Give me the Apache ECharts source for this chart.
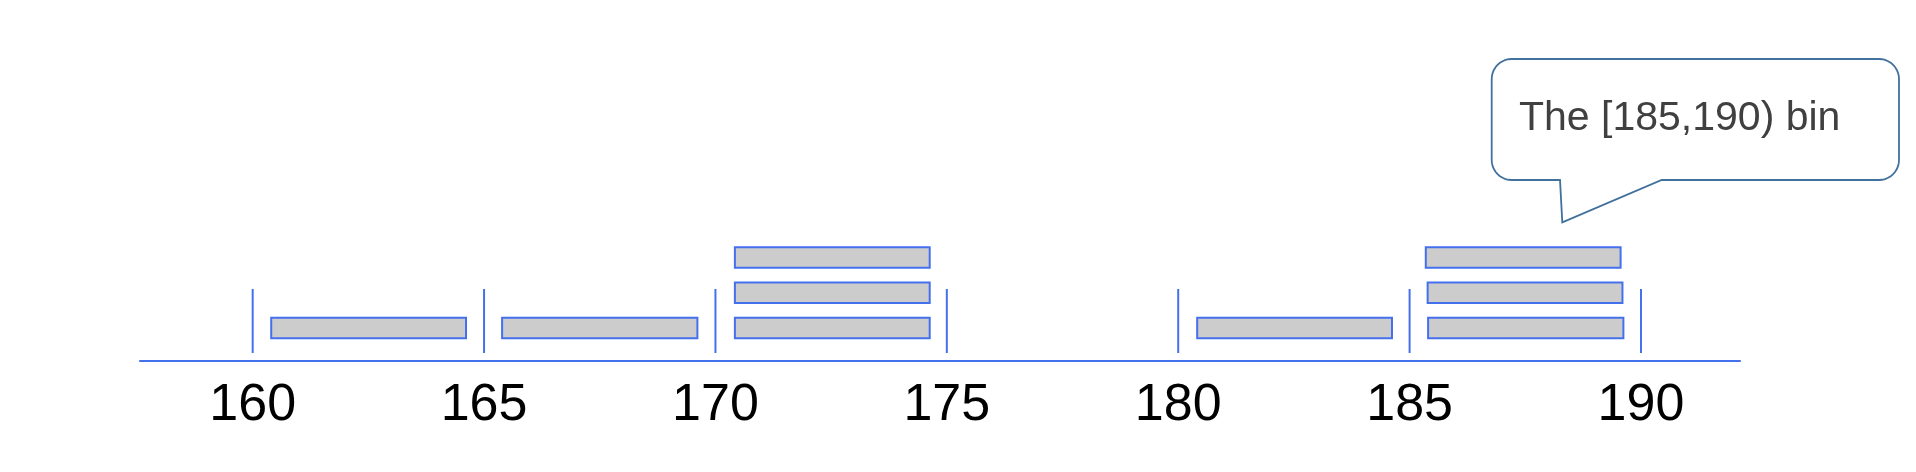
<!DOCTYPE html>
<html>
<head>
<meta charset="utf-8">
<script src="https://cdn.jsdelivr.net/npm/echarts@6/dist/echarts.min.js"></script>
<style>
html,body{margin:0;padding:0;background:#fff;}
#chart{width:1916px;height:472px;}
</style>
</head>
<body>
<div id="chart"></div>
<script>
// Tick labels / bin edges
const binEdges = [160, 165, 170, 175, 180, 185, 190];
// Each box: start value, end value, stack level within its bin
const boxStart = [160.40, 165.39, 170.42, 170.42, 170.42, 180.41, 185.40, 185.39, 185.35];
const boxEnd   = [164.61, 169.61, 174.63, 174.63, 174.63, 184.62, 189.62, 189.60, 189.56];
const boxLevel = [1, 1, 1, 2, 3, 1, 1, 2, 3];
const calloutText = 'The [185,190) bin';

const BLUE = '#4470ee';
const FONT = '"Liberation Sans", Arial, sans-serif';

const boxData = boxStart.map((s, i) => [s, boxEnd[i], boxLevel[i]]);
const edgeData = binEdges.map(v => [v]);

// Callout outline geometry (rounded rectangle with a pointer)
function calloutPoints(L, T, R, B, r, pA, tip, pB) {
  const pts = [];
  function arc(cx, cy, a0, a1) {
    const n = 10;
    for (let i = 0; i <= n; i++) {
      const a = a0 + (a1 - a0) * i / n;
      pts.push([cx + r * Math.cos(a), cy + r * Math.sin(a)]);
    }
  }
  arc(L + r, T + r, Math.PI, Math.PI * 1.5);
  arc(R - r, T + r, Math.PI * 1.5, Math.PI * 2);
  arc(R - r, B - r, 0, Math.PI * 0.5);
  pts.push([pB, B]);
  pts.push(tip);
  pts.push([pA, B]);
  arc(L + r, B - r, Math.PI * 0.5, Math.PI);
  return pts;
}

const chart = echarts.init(document.getElementById('chart'), null, {renderer: 'canvas'});
chart.setOption({
  animation: false,
  backgroundColor: '#ffffff',
  grid: {left: 140, right: 176, top: 8, bottom: 111},
  xAxis: {
    type: 'value',
    min: 157.565,
    max: 192.14,
    axisLine: {show: true, onZero: false, lineStyle: {color: BLUE, width: 2}},
    axisTick: {show: false},
    splitLine: {show: false},
    axisLabel: {
      customValues: binEdges,
      color: '#000000',
      fontSize: 52,
      fontFamily: FONT,
      margin: 19
    }
  },
  yAxis: {
    type: 'value',
    min: 0.065,
    max: 10.065,
    show: false,
    splitLine: {show: false}
  },
  series: [
    {
      type: 'custom',
      silent: true,
      data: edgeData,
      encode: {x: 0},
      renderItem: function (params, api) {
        const x = api.coord([api.value(0), 1])[0];
        const cs = params.coordSys;
        const bottom = cs.y + cs.height - 8;
        return {
          type: 'line',
          shape: {x1: x, y1: bottom, x2: x, y2: bottom - 64},
          style: {stroke: BLUE, lineWidth: 2}
        };
      }
    },
    {
      type: 'custom',
      silent: true,
      data: boxData,
      encode: {x: [0, 1], y: 2},
      renderItem: function (params, api) {
        const p0 = api.coord([api.value(0), api.value(2)]);
        const p1 = api.coord([api.value(1), api.value(2)]);
        const h = 20.5;
        return {
          type: 'rect',
          shape: {x: p0[0], y: p0[1] - h / 2, width: p1[0] - p0[0], height: h},
          style: {fill: '#cccccc', stroke: BLUE, lineWidth: 2}
        };
      }
    }
  ],
  graphic: [
    {
      type: 'polygon',
      silent: true,
      shape: {
        points: calloutPoints(1491.7, 59, 1899, 180, 20, 1560, [1562.3, 222.3], 1661.7)
      },
      style: {fill: '#ffffff', stroke: '#41719c', lineWidth: 1.8}
    },
    {
      type: 'text',
      silent: true,
      x: 1519,
      y: 119,
      style: {
        text: calloutText,
        fill: '#404040',
        font: '41px ' + FONT,
        verticalAlign: 'middle',
        align: 'left'
      }
    }
  ]
});
</script>
</body>
</html>
